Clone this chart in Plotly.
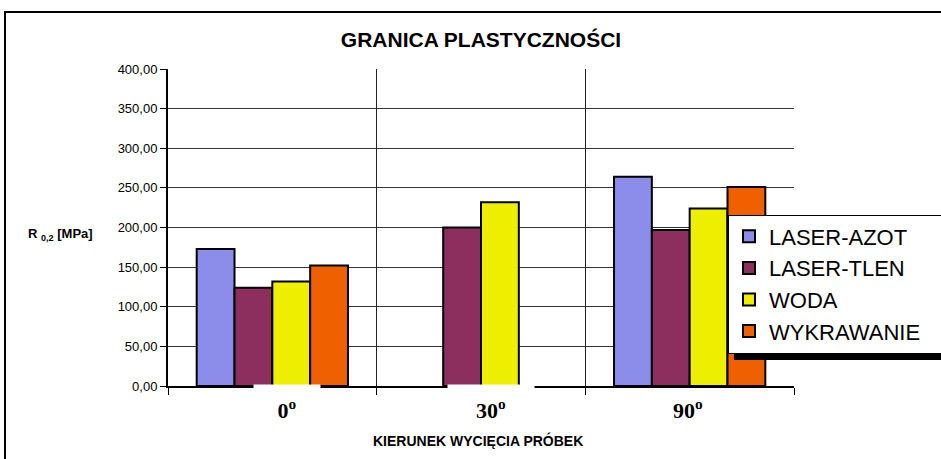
import plotly.graph_objects as go

# Yield strength R0,2 by specimen cutting direction and cutting method
categories = ["0", "30", "90"]
category_labels = ["0<sup>o</sup>", "30<sup>o</sup>", "90<sup>o</sup>"]
series_names = ["LASER-AZOT", "LASER-TLEN", "WODA", "WYKRAWANIE"]
laser_azot = [173.0, None, 264.0]
laser_tlen = [124.0, 200.0, 197.0]
woda = [132.0, 232.0, 224.0]
wykrawanie = [152.0, None, 251.0]
y_ticks = [0, 50, 100, 150, 200, 250, 300, 350, 400]

series_values = [laser_azot, laser_tlen, woda, wykrawanie]
series_colors = ["#8C8CEB", "#8C2F5E", "#EEEE00", "#EE6000"]

# page geometry (pixels)
W, H = 941, 459
ML, MR, MT, MB = 168, 147, 69, 73
PW, PH = W - ML - MR, H - MT - MB


def fx(p):
    """horizontal pixel -> paper fraction"""
    return (p - ML) / PW


def fy(p):
    """vertical pixel -> paper fraction"""
    return (H - MB - p) / PH


SANS = "Liberation Sans, Arial, sans-serif"
SERIF = "Liberation Serif, Times New Roman, serif"
# the legend box runs past the right page edge, so pad its widest entry
LEGEND_PAD = "\u00a0" * 6

fig = go.Figure()
for name, vals, col in zip(series_names, series_values, series_colors):
    fig.add_trace(go.Bar(
        name=name + LEGEND_PAD, x=categories, y=vals,
        marker=dict(color=col, line=dict(color="#000000", width=2)),
    ))

fig.update_layout(
    width=W, height=H,
    margin=dict(l=ML, r=MR, t=MT, b=MB, autoexpand=False),
    paper_bgcolor="white", plot_bgcolor="white",
    barmode="group", bargap=0.275, bargroupgap=0,
    separators=", ",
    font=dict(family=SANS, color="#000000"),
    title=dict(text="<b>GRANICA PLASTYCZNOŚCI</b>", x=0.5, xref="paper",
               y=1 - 40 / H, yref="container", yanchor="middle",
               font=dict(size=21, family=SANS)),
    showlegend=True,
    legend=dict(x=fx(728), y=fy(284), xanchor="left", yanchor="middle",
                bgcolor="white", bordercolor="#000000", borderwidth=1,
                font=dict(size=22, family=SANS), traceorder="normal",
                itemwidth=30, tracegroupgap=0),
)

fig.update_xaxes(
    type="category", range=[-0.5, 2.5], tickson="boundaries",
    showticklabels=False, ticks="outside", ticklen=7, tickcolor="#000000",
    showgrid=True, gridcolor="#222222", gridwidth=1,
    showline=True, linecolor="#000000", linewidth=2, zeroline=False,
)
fig.update_yaxes(
    range=[0, 400], tickvals=y_ticks, tickformat=".2f",
    ticks="outside", ticklen=6, tickcolor="#000000",
    tickfont=dict(size=13, family=SANS),
    showgrid=True, gridcolor="#333333", gridwidth=1,
    showline=True, linecolor="#000000", linewidth=2, zeroline=False,
)

# outer chart frame
fig.add_shape(type="rect", xref="paper", yref="paper",
              x0=fx(5), x1=fx(1200), y0=fy(700), y1=fy(12),
              line=dict(color="#000000", width=2), fillcolor="rgba(0,0,0,0)",
              layer="below")
# legend drop shadow (only its lower edge shows below the box)
fig.add_shape(type="rect", xref="paper", yref="paper",
              x0=fx(734), x1=fx(1200), y0=fy(360), y1=fy(320),
              line=dict(width=0), fillcolor="#000000", layer="above")

# category labels (white label boxes sit over the baseline)
label_shift = [15, 10, -2]
label_box_w = [64, 84, 50]
label_box_h = [46, 46, 30]
for i, (lab, dx, bw, bh) in enumerate(zip(category_labels, label_shift,
                                          label_box_w, label_box_h)):
    fig.add_annotation(x=i, xref="x", y=fy(409), yref="paper",
                       xanchor="center", yanchor="middle",
                       text="<b>" + lab + "</b>", showarrow=False,
                       xshift=dx, width=bw, height=bh, bgcolor="white",
                       font=dict(size=22, family=SERIF), align="center",
                       valign="middle")

# axis titles
fig.add_annotation(x=fx(26), y=fy(234), xref="paper", yref="paper",
                   xanchor="left", yanchor="middle", showarrow=False,
                   text="<b>R <sub>0,2</sub> [MPa]</b>",
                   font=dict(size=13, family=SANS))
fig.add_annotation(x=fx(478), y=fy(440), xref="paper", yref="paper",
                   xanchor="center", yanchor="middle", showarrow=False,
                   text="<b>KIERUNEK WYCIĘCIA PRÓBEK</b>",
                   font=dict(size=14, family=SANS))

fig.write_html("out.html")
